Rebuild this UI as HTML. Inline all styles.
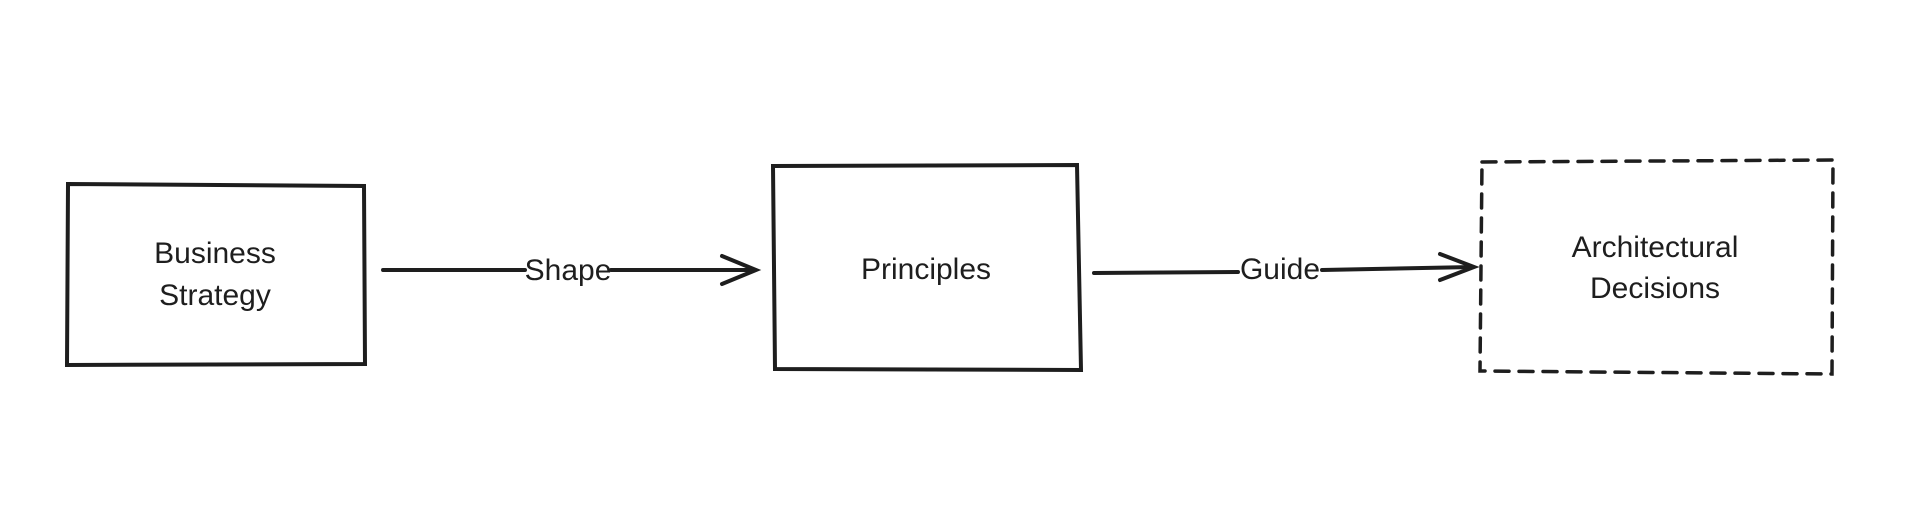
<!DOCTYPE html>
<html><head><style>
html,body{margin:0;padding:0;background:#fff;}
svg{display:block;}
text{font-family:"Liberation Sans",sans-serif;font-size:30px;fill:#1e1e1e;text-anchor:middle;}
</style></head><body>
<svg width="1920" height="514" viewBox="0 0 1920 514">
<rect width="1920" height="514" fill="#fff"/>
<g fill="none" stroke="#1e1e1e" stroke-width="4" stroke-linecap="round">
<path d="M68 184 L364 186 L365 364 L67 365 Z"/>
<path d="M773 166 L1077 165 L1081 370 L775 369 Z"/>
<path d="M1482 162 L1833 160 L1832 374 L1480 371 Z" stroke-dasharray="14 10" stroke-width="3.5"/>
<path d="M383 270 L525 270 M611 270 L755 270"/>
<path d="M722 256 L756 270 L722 284"/>
<path d="M1094 273 L1238 272 M1322 270 L1473 267"/>
<path d="M1440 254 L1474 267 L1440 280"/>
</g>
<text x="215" y="263">Business</text>
<text x="215" y="305">Strategy</text>
<text x="926" y="279">Principles</text>
<text x="1655" y="257">Architectural</text>
<text x="1655" y="298">Decisions</text>
<text x="568" y="280">Shape</text>
<text x="1280" y="279">Guide</text>
</svg>
</body></html>
